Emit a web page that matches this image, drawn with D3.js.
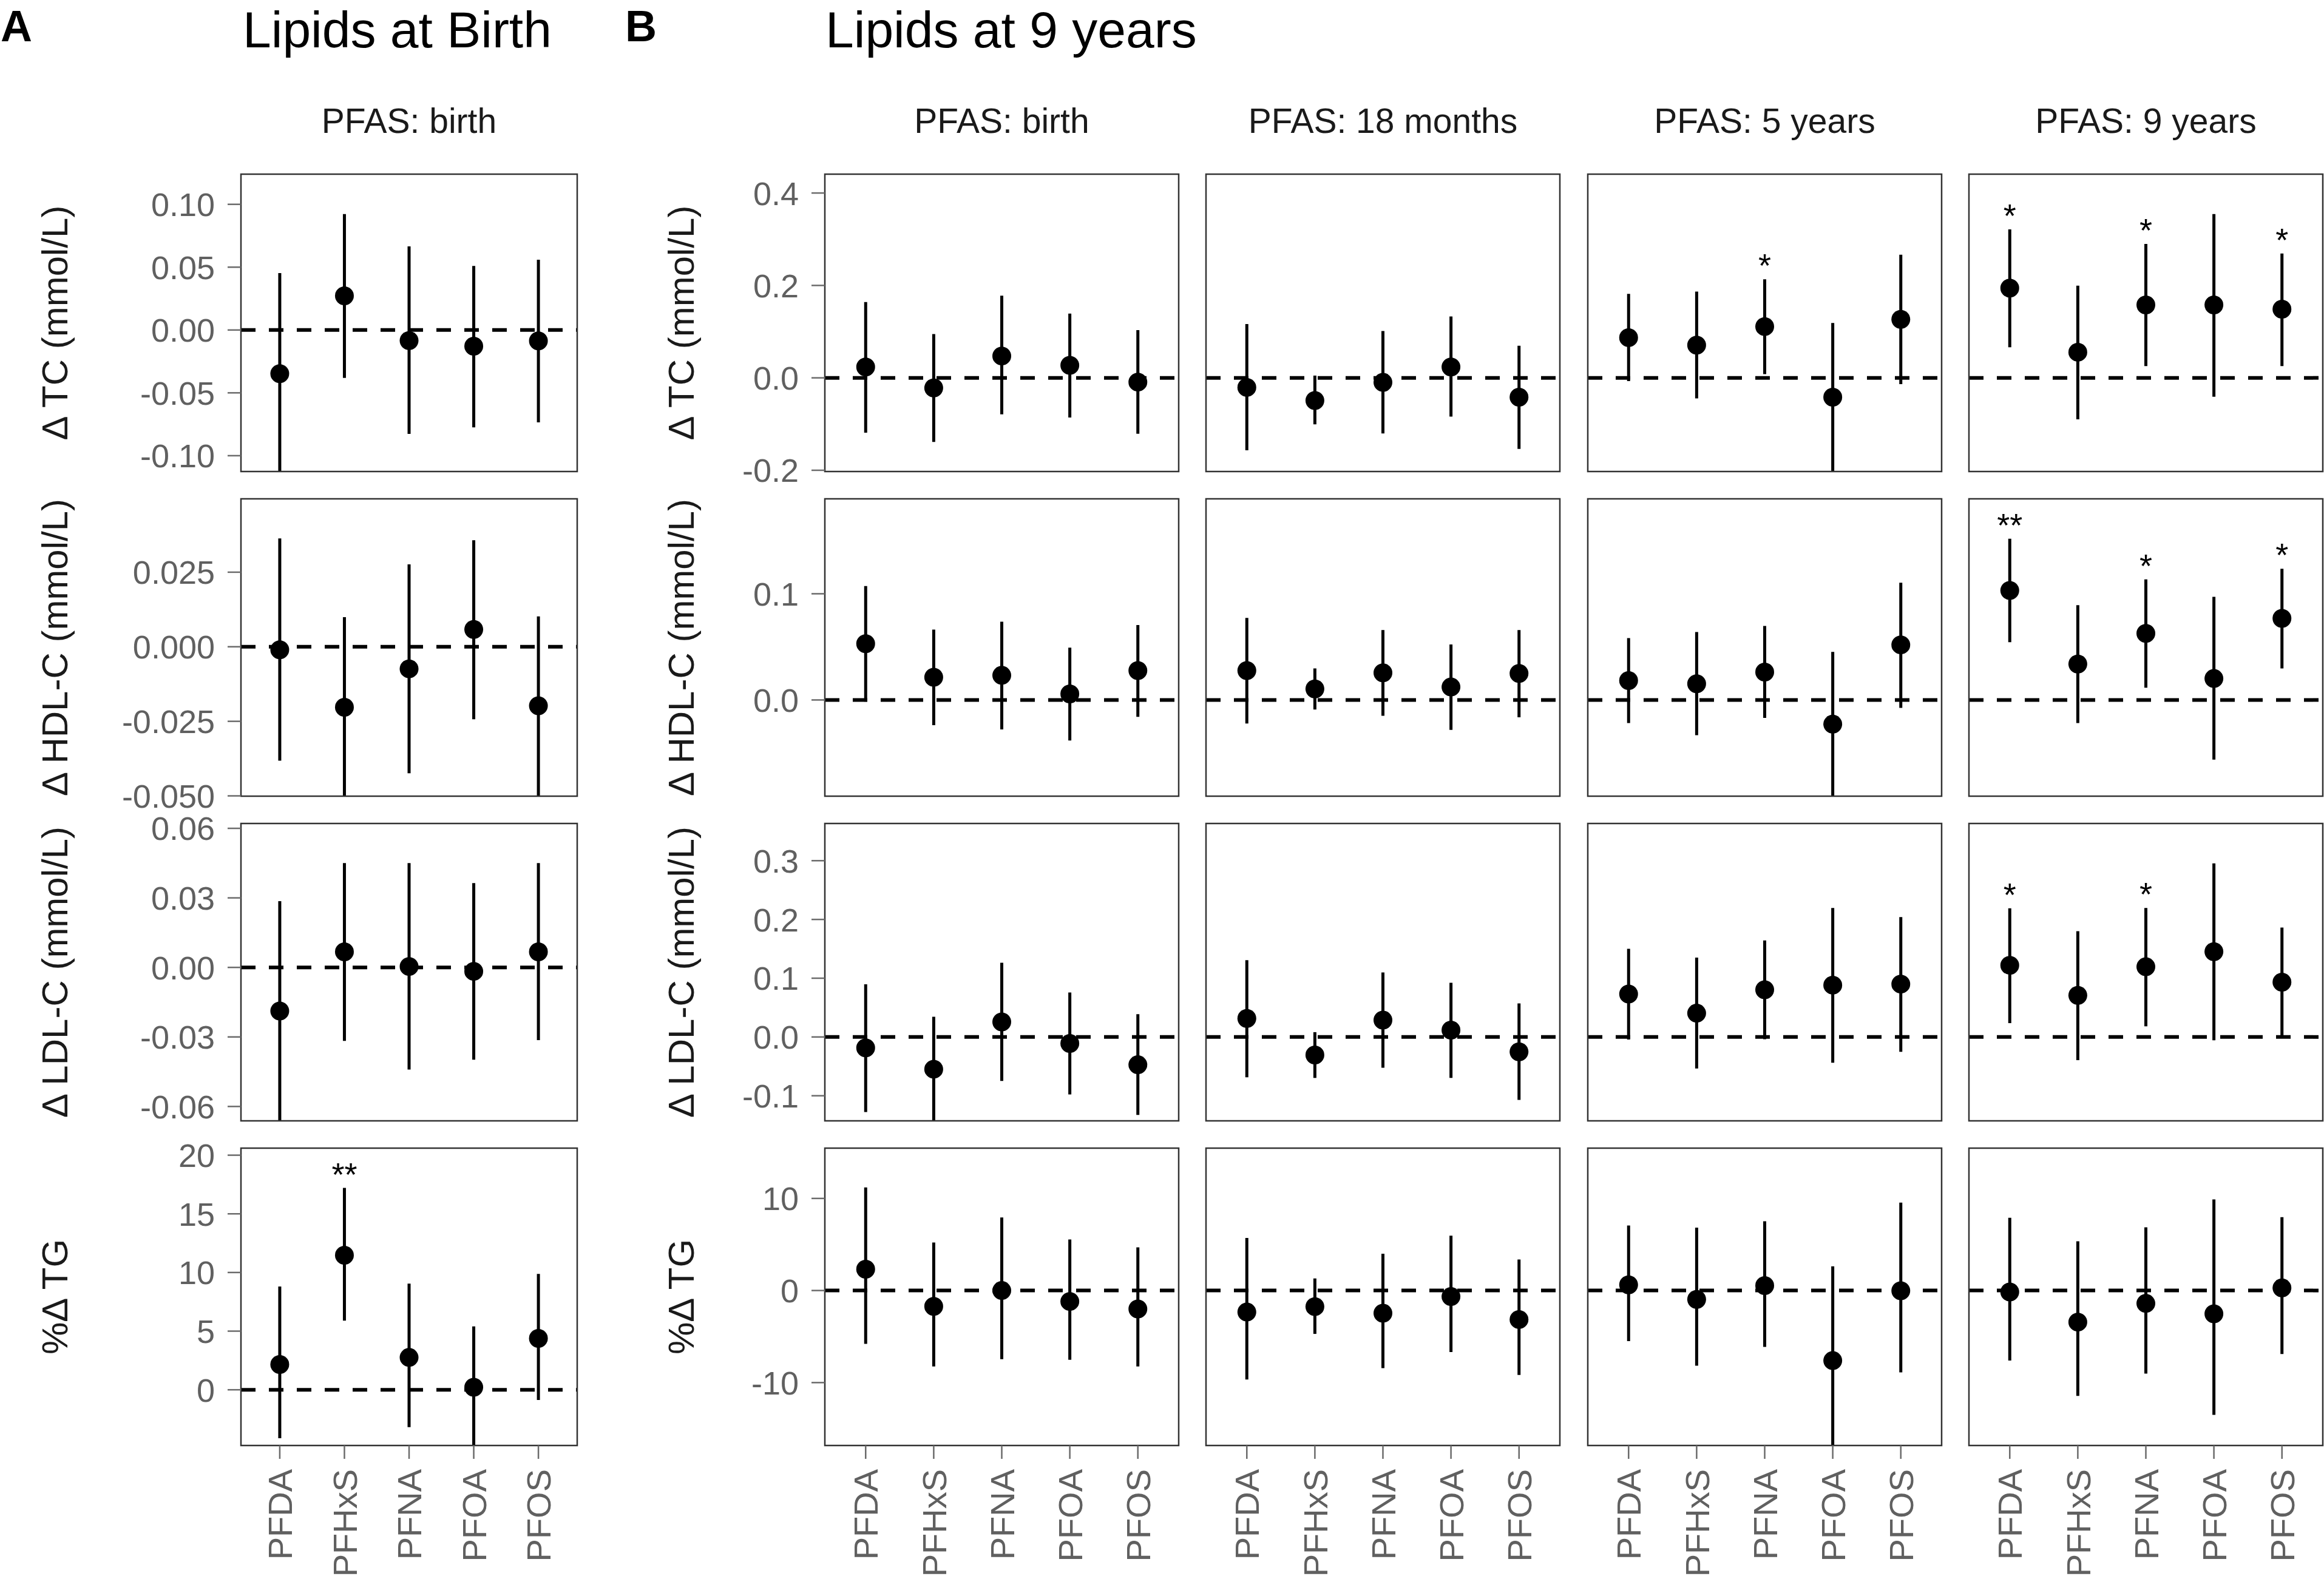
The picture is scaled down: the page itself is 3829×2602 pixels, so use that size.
<!DOCTYPE html>
<html><head><meta charset="utf-8">
<script src="https://cdn.jsdelivr.net/npm/d3@7"></script>
<style>
body{margin:0;background:#fff}
svg{display:block}
text{font-family:"Liberation Sans",Arial,Helvetica,sans-serif}
</style>
</head><body><div id="chart"></div>
<script>
// ---------- categories & labels ----------
const pfas = ["PFDA","PFHxS","PFNA","PFOA","PFOS"];
const exposureLabels = ["PFAS: birth","PFAS: 18 months","PFAS: 5 years","PFAS: 9 years"];
const outcomeTitles = ["\u0394 TC (mmol/L)","\u0394 HDL-C (mmol/L)","\u0394 LDL-C (mmol/L)","%\u0394 TG"];

// ---------- Panel A: lipids at birth, PFAS at birth ----------
const aYLimits = [[-0.1126,0.124],[-0.0501,0.0496],[-0.0662,0.0621],[-4.75,20.6]];
const aYTicks  = [[-0.10,-0.05,0,0.05,0.10],[-0.050,-0.025,0,0.025],[-0.06,-0.03,0,0.03,0.06],[0,5,10,15,20]];
const aYFormat = [".2f",".3f",".2f","d"];

const aTCest  = [-0.0347, 0.0272,-0.0084,-0.0129,-0.0087];
const aTClo   = [-0.1180,-0.0381,-0.0827,-0.0775,-0.0735];
const aTChi   = [ 0.0453, 0.0923, 0.0666, 0.0510, 0.0559];
const aHDLest = [-0.0010,-0.0203,-0.0074, 0.0058,-0.0198];
const aHDLlo  = [-0.0382,-0.0530,-0.0424,-0.0243,-0.0500];
const aHDLhi  = [ 0.0363, 0.0099, 0.0276, 0.0357, 0.0102];
const aLDLest = [-0.0188, 0.0067, 0.0004,-0.0017, 0.0067];
const aLDLlo  = [-0.0700,-0.0317,-0.0441,-0.0398,-0.0314];
const aLDLhi  = [ 0.0286, 0.0450, 0.0450, 0.0364, 0.0450];
const aTGest  = [ 2.16, 11.47, 2.76, 0.22, 4.38];
const aTGlo   = [-4.13,  5.90,-3.18,-5.20,-0.87];
const aTGhi   = [ 8.81, 17.21, 9.05, 5.40, 9.88];
const aTGsig  = ["","**","","",""];

// ---------- Panel B: lipids at 9 years (columns: PFAS birth, 18 m, 5 y, 9 y) ----------
const bYLimits = [[-0.2027,0.4408],[-0.0906,0.1894],[-0.1427,0.3633],[-16.83,15.46]];
const bYTicks  = [[-0.2,0,0.2,0.4],[0,0.1],[-0.1,0,0.1,0.2,0.3],[-10,0,10]];
const bYFormat = [".1f",".1f",".1f","d"];

const bTCest = [[ 0.0234,-0.0218, 0.0473, 0.0272,-0.0092],
                [-0.0207,-0.0490,-0.0098, 0.0234,-0.0419],
                [ 0.0870, 0.0707, 0.1110,-0.0419, 0.1267],
                [ 0.1942, 0.0555, 0.1577, 0.1577, 0.1485]];
const bTClo  = [[-0.1186,-0.1387,-0.0789,-0.0859,-0.1208],
                [-0.1566,-0.1006,-0.1202,-0.0838,-0.1539],
                [-0.0071,-0.0446, 0.0082,-0.2100,-0.0136],
                [ 0.0663,-0.0897, 0.0255,-0.0408, 0.0255]];
const bTChi  = [[ 0.1640, 0.0946, 0.1779, 0.1392, 0.1033],
                [ 0.1164, 0.0049, 0.1012, 0.1327, 0.0696],
                [ 0.1816, 0.1866, 0.2132, 0.1186, 0.2665],
                [ 0.3214, 0.1996, 0.2898, 0.3545, 0.2692]];
const bTCsig = [["","","","",""],["","","","",""],["","","*","",""],["*","","*","","*"]];

const bHDLest = [[ 0.0530, 0.0214, 0.0232, 0.0057, 0.0277],
                 [ 0.0277, 0.0104, 0.0255, 0.0122, 0.0250],
                 [ 0.0183, 0.0153, 0.0263,-0.0228, 0.0519],
                 [ 0.1031, 0.0338, 0.0627, 0.0202, 0.0768]];
const bHDLlo  = [[-0.0016,-0.0238,-0.0277,-0.0381,-0.0159],
                 [-0.0222,-0.0090,-0.0149,-0.0281,-0.0163],
                 [-0.0218,-0.0332,-0.0169,-0.0950,-0.0075],
                 [ 0.0544,-0.0218, 0.0116,-0.0562, 0.0297]];
const bHDLhi  = [[ 0.1073, 0.0662, 0.0737, 0.0493, 0.0705],
                 [ 0.0772, 0.0297, 0.0658, 0.0523, 0.0658],
                 [ 0.0583, 0.0640, 0.0697, 0.0452, 0.1104],
                 [ 0.1519, 0.0892, 0.1136, 0.0971, 0.1236]];
const bHDLsig = [["","","","",""],["","","","",""],["","","","",""],["**","","*","","*"]];

const bLDLest = [[-0.0185,-0.0548, 0.0256,-0.0110,-0.0473],
                 [ 0.0316,-0.0306, 0.0288, 0.0117,-0.0252],
                 [ 0.0732, 0.0405, 0.0804, 0.0882, 0.0900],
                 [ 0.1220, 0.0708, 0.1195, 0.1451, 0.0932]];
const bLDLlo  = [[-0.1276,-0.1470,-0.0747,-0.0978,-0.1326],
                 [-0.0686,-0.0697,-0.0523,-0.0697,-0.1070],
                 [-0.0043,-0.0537,-0.0039,-0.0437,-0.0252],
                 [ 0.0235,-0.0395, 0.0181,-0.0057,-0.0004]];
const bLDLhi  = [[ 0.0896, 0.0345, 0.1262, 0.0757, 0.0388],
                 [ 0.1308, 0.0082, 0.1099, 0.0921, 0.0572],
                 [ 0.1500, 0.1351, 0.1643, 0.2194, 0.2041],
                 [ 0.2190, 0.1799, 0.2194, 0.2955, 0.1863]];
const bLDLsig = [["","","","",""],["","","","",""],["","","","",""],["*","","*","",""]];

const bTGest = [[ 2.31,-1.72, 0.00,-1.19,-2.00],
                [-2.34,-1.75,-2.46,-0.66,-3.15],
                [ 0.62,-0.97, 0.53,-7.61,-0.03],
                [-0.16,-3.43,-1.40,-2.53, 0.28]];
const bTGlo  = [[-5.80,-8.24,-7.46,-7.52,-8.24],
                [-9.67,-4.71,-8.42,-6.68,-9.17],
                [-5.49,-8.17,-6.12,-17.50,-8.89],
                [-7.61,-11.45,-9.02,-13.51,-6.90]];
const bTGhi  = [[11.20, 5.21, 7.93, 5.55, 4.68],
                [ 5.71, 1.31, 3.99, 5.96, 3.37],
                [ 7.05, 6.83, 7.52, 2.62, 9.55],
                [ 7.89, 5.34, 6.86, 9.89, 7.96]];
const bTGsig = [["","","","",""],["","","","",""],["","","","",""],["","","","",""]];

// ---------- layout ----------
const W = 3829, H = 2602;
const rowTop = [287, 822, 1357, 1892];
const panelH = 490;
const aLeft = 397, aWidth = 554;
const bLeft = [1359, 1987, 2616, 3244], bWidth = 583;
const greyTxt = "#606060", greyTick = "#6b6b6b";

const svg = d3.select("#chart").append("svg").attr("width", W).attr("height", H)
  .style("background", "#fff");
const defs = svg.append("defs");
let clipId = 0;

function fmtTick(f) {
  const base = d3.format(f);
  return v => base(v).replace("\u2212", "-");
}

function drawPanel(opts) {
  const {x0, y0, w, h, limits, est, lo, hi, sig, yTicks, yFmt, showY, showX} = opts;
  const x = d3.scalePoint().domain(pfas).range([x0, x0 + w]).padding(0.6);
  const y = d3.scaleLinear().domain(limits).range([y0 + h, y0]);
  const id = "clip" + (clipId++);
  defs.append("clipPath").attr("id", id).append("rect")
    .attr("x", x0).attr("y", y0).attr("width", w).attr("height", h);
  const g = svg.append("g");
  const inner = g.append("g").attr("clip-path", `url(#${id})`);

  // reference line
  inner.append("line")
    .attr("x1", x0).attr("x2", x0 + w).attr("y1", y(0)).attr("y2", y(0))
    .attr("stroke", "#000").attr("stroke-width", 6).attr("stroke-dasharray", "24,22");

  const rows = pfas.map((p, i) => ({p, e: est[i], l: lo[i], u: hi[i], s: sig ? sig[i] : ""}));
  inner.selectAll("line.ci").data(rows).join("line").attr("class", "ci")
    .attr("x1", d => x(d.p)).attr("x2", d => x(d.p))
    .attr("y1", d => y(d.l)).attr("y2", d => y(d.u))
    .attr("stroke", "#000").attr("stroke-width", 5);
  inner.selectAll("circle").data(rows).join("circle")
    .attr("cx", d => x(d.p)).attr("cy", d => y(d.e)).attr("r", 15.5).attr("fill", "#000");
  g.selectAll("text.sig").data(rows.filter(d => d.s)).join("text").attr("class", "sig")
    .attr("x", d => x(d.p)).attr("y", d => y(d.u) - 4)
    .attr("text-anchor", "middle").attr("font-size", 54).attr("fill", "#000").text(d => d.s);

  // border
  g.append("rect").attr("x", x0).attr("y", y0).attr("width", w).attr("height", h)
    .attr("fill", "none").attr("stroke", "#333").attr("stroke-width", 2.5);

  if (showY) {
    const f = fmtTick(yFmt);
    const ya = g.append("g").attr("class", "yaxis");
    ya.selectAll("line").data(yTicks).join("line")
      .attr("x1", x0 - 22).attr("x2", x0).attr("y1", d => y(d)).attr("y2", d => y(d))
      .attr("stroke", greyTick).attr("stroke-width", 2.5);
    ya.selectAll("text").data(yTicks).join("text")
      .attr("x", x0 - 43).attr("y", d => y(d)).attr("dy", "0.36em")
      .attr("text-anchor", "end").attr("font-size", 54).attr("fill", greyTxt)
      .text(d => f(d));
  }
  if (showX) {
    const xa = g.append("g").attr("class", "xaxis");
    xa.selectAll("line").data(pfas).join("line")
      .attr("x1", d => x(d)).attr("x2", d => x(d))
      .attr("y1", y0 + h).attr("y2", y0 + h + 22)
      .attr("stroke", greyTick).attr("stroke-width", 2.5);
    xa.selectAll("text").data(pfas).join("text")
      .attr("transform", d => `translate(${x(d)},${y0 + h + 39}) rotate(-90)`)
      .attr("dy", "0.36em").attr("text-anchor", "end")
      .attr("font-size", 56).attr("fill", greyTxt).text(d => d);
  }
}

// ---------- Panel A ----------
const aEst = [aTCest, aHDLest, aLDLest, aTGest];
const aLo  = [aTClo, aHDLlo, aLDLlo, aTGlo];
const aHi  = [aTChi, aHDLhi, aLDLhi, aTGhi];
const aSig = [null, null, null, aTGsig];
for (let r = 0; r < 4; r++) {
  drawPanel({x0: aLeft, y0: rowTop[r], w: aWidth, h: panelH, limits: aYLimits[r],
    est: aEst[r], lo: aLo[r], hi: aHi[r], sig: aSig[r], yTicks: aYTicks[r], yFmt: aYFormat[r],
    showY: true, showX: r === 3});
}

// ---------- Panel B ----------
const bEst = [bTCest, bHDLest, bLDLest, bTGest];
const bLo  = [bTClo, bHDLlo, bLDLlo, bTGlo];
const bHi  = [bTChi, bHDLhi, bLDLhi, bTGhi];
const bSig = [bTCsig, bHDLsig, bLDLsig, bTGsig];
for (let r = 0; r < 4; r++) {
  for (let c = 0; c < 4; c++) {
    drawPanel({x0: bLeft[c], y0: rowTop[r], w: bWidth, h: panelH, limits: bYLimits[r],
      est: bEst[r][c], lo: bLo[r][c], hi: bHi[r][c], sig: bSig[r][c],
      yTicks: bYTicks[r], yFmt: bYFormat[r], showY: c === 0, showX: r === 3});
  }
}

// ---------- axis titles ----------
const yTitleX = [89, 1121];
yTitleX.forEach(xc => {
  outcomeTitles.forEach((t, r) => {
    svg.append("text")
      .attr("transform", `translate(${xc},${rowTop[r] + panelH / 2}) rotate(-90)`)
      .attr("dy", "0.36em").attr("text-anchor", "middle")
      .attr("font-size", 60).attr("fill", "#1a1a1a").text(t);
  });
});

// ---------- strip labels ----------
svg.append("text").attr("x", aLeft + aWidth / 2).attr("y", 219)
  .attr("text-anchor", "middle").attr("font-size", 57).attr("fill", "#1a1a1a").text(exposureLabels[0]);
exposureLabels.forEach((t, c) => {
  svg.append("text").attr("x", bLeft[c] + bWidth / 2).attr("y", 219)
    .attr("text-anchor", "middle").attr("font-size", 57).attr("fill", "#1a1a1a").text(t);
});

// ---------- titles & panel letters ----------
svg.append("text").attr("x", 1).attr("y", 68).attr("font-size", 72).attr("font-weight", "bold")
  .attr("fill", "#000").text("A");
svg.append("text").attr("x", 1030).attr("y", 68).attr("font-size", 72).attr("font-weight", "bold")
  .attr("fill", "#000").text("B");
svg.append("text").attr("x", 400).attr("y", 78).attr("font-size", 84).attr("fill", "#000").text("Lipids at Birth");
svg.append("text").attr("x", 1360).attr("y", 78).attr("font-size", 84).attr("fill", "#000").text("Lipids at 9 years");
</script>
</body></html>
